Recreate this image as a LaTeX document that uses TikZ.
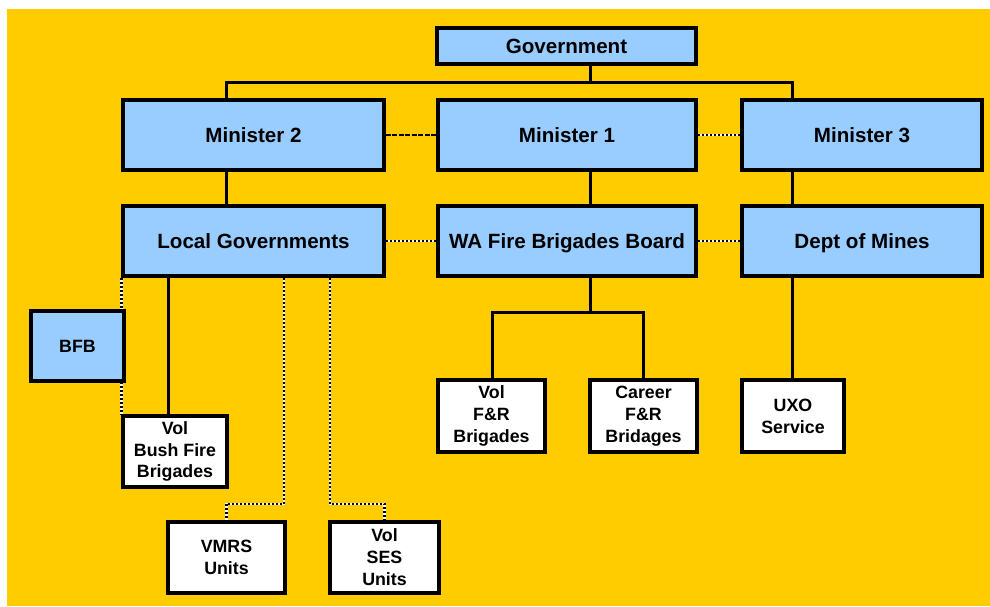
\documentclass[tikz,border=0pt]{standalone}
\usepackage{fontspec}
\setmainfont{Liberation Sans}
\usetikzlibrary{backgrounds}
\pgfdeclarelayer{bgzero}
\pgfsetlayers{bgzero,background,main}
\definecolor{bgyellow}{HTML}{FFCC00}
\definecolor{boxblue}{HTML}{99CCFF}
\tikzset{
  bluebox/.style={draw=black, fill=boxblue, line width=3.5pt, inner sep=0pt,
    font=\fontsize{20.6}{24}\selectfont\bfseries, align=center, text depth=0pt},
  whitebox/.style={draw=black, fill=white, line width=3.5pt, inner sep=0pt,
    font=\fontsize{17.8}{21.9}\selectfont\bfseries, align=center},
  conn/.style={draw=black, line width=3pt},
  dotbase/.style={draw=white, line width=2.6pt},
  dotline/.style={draw=black, line width=2.6pt, dash pattern=on 2pt off 2pt},
  dashline/.style={draw=black, line width=2.6pt, dash pattern=on 5pt off 1.5pt}
}
\begin{document}
\begin{tikzpicture}[x=1pt,y=-1pt]
\useasboundingbox (0,0) rectangle (990,606);
\begin{pgfonlayer}{bgzero}
\fill[white] (0,0) rectangle (990,606);
\fill[bgyellow] (7,9) rectangle (990,606);
\end{pgfonlayer}

\coordinate (busL) at (226,82);
\coordinate (busR) at (792,82);
\coordinate (busM) at (590,82);

% boxes
\node[bluebox, minimum width=259, minimum height=36] (gov) at (566.5,46) {Government};
\node[bluebox, minimum width=261, minimum height=70] (m2) at (253.5,135) {Minister 2};
\node[bluebox, minimum width=258, minimum height=70] (m1) at (567,135) {Minister 1};
\node[bluebox, minimum width=240, minimum height=70] (m3) at (862,135) {Minister 3};
\node[bluebox, minimum width=261, minimum height=70] (lg) at (253.5,241) {Local Governments};
\node[bluebox, minimum width=258, minimum height=70] (wa) at (567,241) {WA Fire Brigades Board};
\node[bluebox, minimum width=240, minimum height=70] (dm) at (862,241) {Dept of Mines};
\node[bluebox, minimum width=93, minimum height=70, font=\fontsize{17.8}{21.9}\selectfont\bfseries] (bfb) at (77.5,346) {BFB};
\node[whitebox, minimum width=104, minimum height=71] (vbf) at (175,451.5) {Vol\\Bush Fire\\Brigades};
\node[whitebox, minimum width=117, minimum height=71] (vmrs) at (226.5,557.5) {VMRS\\Units};
\node[whitebox, minimum width=109, minimum height=71] (ses) at (384.5,557.5) {Vol\\SES\\Units};
\node[whitebox, minimum width=107, minimum height=72] (vfr) at (491.5,416) {Vol\\F\&R\\Brigades};
\node[whitebox, minimum width=107, minimum height=72] (car) at (643.5,416) {Career\\F\&R\\Bridages};
\node[whitebox, minimum width=102, minimum height=72] (uxo) at (793,416) {UXO\\Service};

\begin{pgfonlayer}{background}
% solid connectors
\draw[conn] (gov.south -| busM) -- (busM);
\draw[conn] (m2.north -| busL) -- (busL) -- (busR) -- (m3.north -| busR);
\draw[conn] (m2.south -| busL) -- (lg.north -| busL);
\draw[conn] (m1.south -| busM) -- (wa.north -| busM);
\draw[conn] (m3.south -| busR) -- (dm.north -| busR);
\coordinate (lgv) at (168,0);
\draw[conn] (lg.south -| lgv) -- (vbf.north -| lgv);
\coordinate (waj) at (590,312);
\coordinate (vfrx) at (492,0);
\coordinate (carx) at (643,0);
\draw[conn] (wa.south -| waj) -- (waj);
\draw[conn] (vfr.north -| vfrx) |- (waj) -| (car.north -| carx);
\draw[conn] (dm.south -| busR) -- (uxo.north -| busR);

% dashed / dotted connectors
\draw[dashline] (m2.east) -- (m1.west);
\foreach \s in {dotbase, dotline} {
  \draw[\s] (m1.east) -- (m3.west);
  \draw[\s] (lg.east) -- (wa.west);
  \draw[\s] (wa.east) -- (dm.west);
  \draw[\s] (lg.south west) -- (vbf.north west);
  \draw[\s] (lg.south -| 284,0) -- (284,504) -- (226.5,504) -- (vmrs.north);
  \draw[\s] (lg.south -| 330,0) -- (330,504) -- (384.5,504) -- (ses.north);
}
\end{pgfonlayer}
\end{tikzpicture}
\end{document}
